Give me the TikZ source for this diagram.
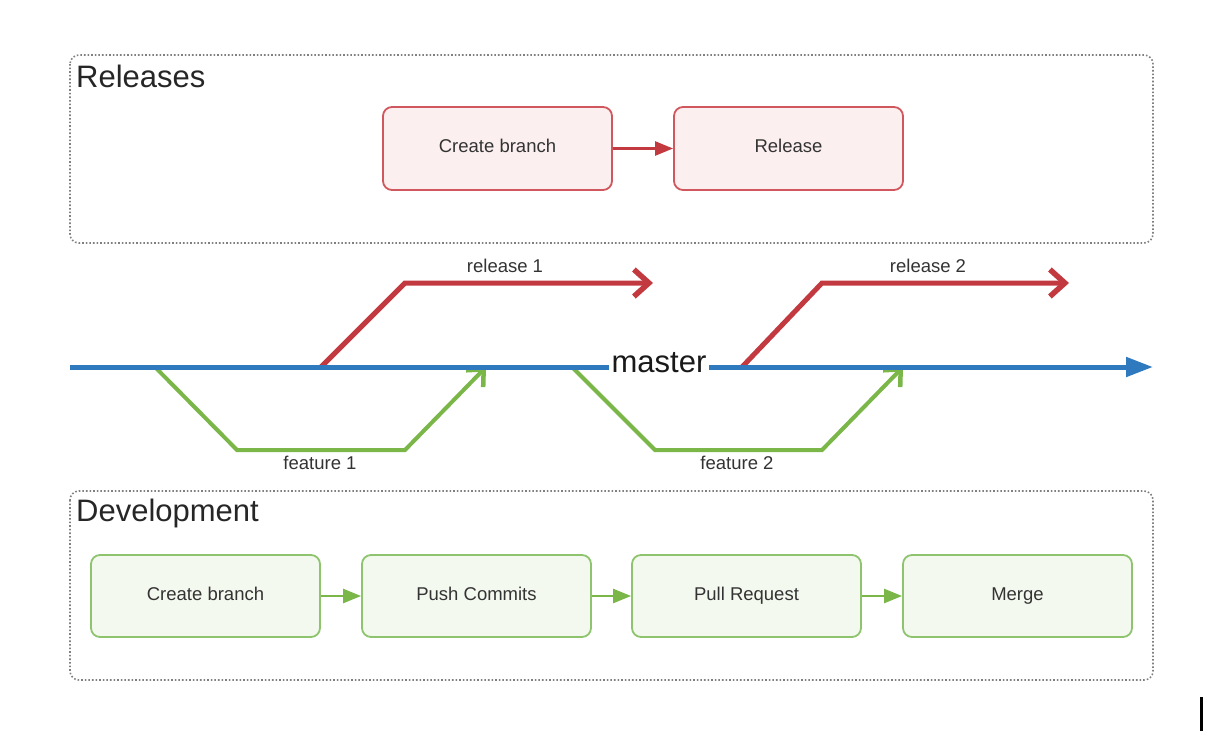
\documentclass[tikz,border=0pt]{standalone}
\usepackage{fontspec}
\setmainfont{Liberation Sans}
\usetikzlibrary{arrows.meta}
\definecolor{relred}{HTML}{C23A3F}
\definecolor{relborder}{HTML}{D0575D}
\definecolor{relfill}{HTML}{FCEFEF}
\definecolor{devgreen}{HTML}{7AB648}
\definecolor{devborder}{HTML}{8EC46E}
\definecolor{devfill}{HTML}{F4F9EF}
\definecolor{masterblue}{HTML}{2F7ABF}
\definecolor{boxtext}{HTML}{333333}
\tikzset{
  container/.style={draw=black!50, dotted, line width=1.6pt, rounded corners=9pt},
  header/.style={anchor=west, inner sep=0pt, font=\fontsize{31}{36}\selectfont, text=black!85},
  boxbase/.style={line width=1.8pt, rounded corners=9pt, minimum width=229pt,
    text height=13pt, text depth=5pt, font=\fontsize{18.5}{22}\selectfont, text=boxtext},
  relbox/.style={boxbase, draw=relborder, fill=relfill, minimum height=83pt},
  devbox/.style={boxbase, draw=devborder, fill=devfill, minimum height=82pt},
  relflow/.style={draw=relred, line width=2.4pt, -{Triangle[length=18pt,width=14pt]}},
  devflow/.style={draw=devgreen, line width=2.4pt, -{Triangle[length=18pt,width=14pt]}},
  relbranch/.style={draw=relred, line width=5pt, line join=miter,
    -{Straight Barb[length=15pt,width=27pt,line width=5.5pt]}},
  featbranch/.style={draw=devgreen, line width=4pt, line join=miter,
    -{Straight Barb[length=13pt,width=24pt,line width=4.5pt]}},
  masterline/.style={draw=masterblue, line width=5pt, -{Triangle[length=27pt,width=19pt]}},
  branchlabel/.style={font=\fontsize{18.5}{22}\selectfont, text=boxtext, inner sep=1pt},
}
\begin{document}
\begin{tikzpicture}[x=1pt,y=-1pt]
\useasboundingbox (0,0) rectangle (1230,750);

% containers
\draw[container] (70,55) rectangle (1153,243);
\draw[container] (70,491) rectangle (1153,680);
\node[header] (relhead) at (76,76) {Releases};
\node[header] (devhead) at (76,513) {Development};

% release boxes
\node[relbox] (rcreate) at (497.5,148.5) {Create branch};
\node[relbox] (rrelease) at (788.5,148.5) {Release};
\draw[relflow] (rcreate) -- (rrelease);

% development boxes
\node[devbox] (dcreate) at (205.5,596) {Create branch};
\node[devbox] (dpush) at (476.5,596) {Push Commits};
\node[devbox] (dpull) at (746.5,596) {Pull Request};
\node[devbox] (dmerge) at (1017.5,596) {Merge};
\draw[devflow] (dcreate) -- (dpush);
\draw[devflow] (dpush) -- (dpull);
\draw[devflow] (dpull) -- (dmerge);

% branch coordinates
\coordinate (m0) at (70,367);
\coordinate (m1) at (1153,367);
\coordinate (r1a) at (321,367);
\coordinate (r1b) at (405,283);
\coordinate (r1c) at (653,283);
\coordinate (r2a) at (742,367);
\coordinate (r2b) at (822,283);
\coordinate (r2c) at (1069,283);
\coordinate (f1a) at (155,367);
\coordinate (f1b) at (237,450);
\coordinate (f1c) at (405,450);
\coordinate (f1d) at (486,367);
\coordinate (f2a) at (572,367);
\coordinate (f2b) at (655,450);
\coordinate (f2c) at (822,450);
\coordinate (f2d) at (903,367);

% branches
\draw[relbranch] (r1a) -- (r1b) -- (r1c);
\draw[relbranch] (r2a) -- (r2b) -- (r2c);
\draw[featbranch] (f1a) -- (f1b) -- (f1c) -- (f1d);
\draw[featbranch] (f2a) -- (f2b) -- (f2c) -- (f2d);
\draw[masterline] (m0) -- (m1);

% labels
\node[fill=white, inner xsep=3pt, inner ysep=0pt, font=\fontsize{31}{36}\selectfont, text=black!90] (masterlbl) at (659,363) {master};
\node[branchlabel] (rel1lbl) at (505,266) {release 1};
\node[branchlabel] (rel2lbl) at (928,266) {release 2};
\node[branchlabel] (feat1lbl) at (320,463) {feature 1};
\node[branchlabel] (feat2lbl) at (737,463) {feature 2};

% cursor mark
\coordinate (c0) at (1201.5,697);
\coordinate (c1) at (1201.5,731);
\draw[line width=3pt, black] (c0) -- (c1);
\end{tikzpicture}
\end{document}
